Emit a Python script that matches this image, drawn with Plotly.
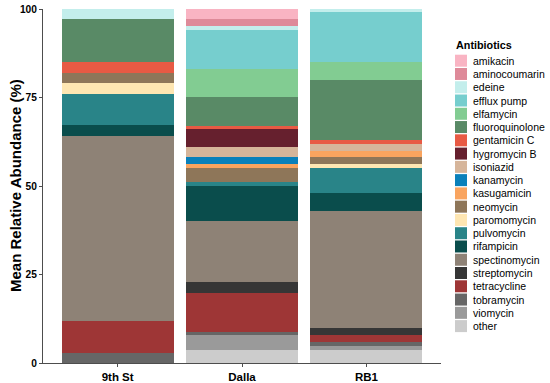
import plotly.graph_objects as go

sites = ["9th St", "Dalla", "RB1"]
antibiotics = ["amikacin", "aminocoumarin", "edeine", "efflux pump", "elfamycin",
               "fluoroquinolone", "gentamicin C", "hygromycin B", "isoniazid",
               "kanamycin", "kasugamicin", "neomycin", "paromomycin", "pulvomycin",
               "rifampicin", "spectinomycin", "streptomycin", "tetracycline",
               "tobramycin", "viomycin", "other"]
# values aligned with antibiotics
nine_st = [0, 0, 2.9, 0, 0, 12.0, 3.2, 0, 0, 0, 0, 2.8, 3.1, 8.9, 3.1, 52.1, 0, 9.1, 2.8, 0, 0]
dalla = [2.9, 2.0, 1.0, 11.1, 7.9, 8.1, 0.9, 5.0, 2.9, 2.1, 0.9, 4.2, 0, 1.0, 9.8, 17.4, 2.9, 11.1, 0.9, 4.1, 3.8]
rb1 = [0, 0, 0.9, 14.0, 5.2, 16.9, 1.0, 0, 2.0, 0, 1.9, 2.0, 1.0, 7.1, 5.1, 33.0, 2.1, 2.0, 1.0, 1.0, 3.8]
colors = ["#F9B4C3", "#DE8A99", "#C3EEEC", "#76CECE", "#82CC92", "#598A66", "#E85A44",
          "#66202E", "#D6B59A", "#0A80BA", "#F9A45F", "#8E7659", "#FEE6B2", "#298488",
          "#0A4D4C", "#8E8276", "#363636", "#9E3636", "#666666", "#9A9A9A", "#CCCCCC"]
yticks = [0, 25, 50, 75, 100]

FONT = "Liberation Sans"
fig = go.Figure()
for i in reversed(range(len(antibiotics))):
    fig.add_trace(go.Bar(
        x=sites, y=[nine_st[i], dalla[i], rb1[i]], name=antibiotics[i],
        marker=dict(color=colors[i], line=dict(width=0)), showlegend=False))

W, H = 550, 383
L, R, T, B = 43, 441, 9, 363
pw, ph = R - L, B - T

def px(x):
    return (x - L) / pw

def py(y):
    return (B - y) / ph

shapes = []
annotations = []
annotations.append(dict(text="<b>Antibiotics</b>", x=px(454), y=py(45), xref="paper", yref="paper",
                        xanchor="left", yanchor="middle", showarrow=False,
                        font=dict(family=FONT, size=10.8, color="black")))
for k, (name, col) in enumerate(zip(antibiotics, colors)):
    cy = 60.7 + 13.27 * k
    shapes.append(dict(type="rect", xref="paper", yref="paper",
                       x0=px(455), x1=px(467), y0=py(cy + 6), y1=py(cy - 6),
                       fillcolor=col, line=dict(width=0)))
    annotations.append(dict(text=name, x=px(471), y=py(cy), xref="paper", yref="paper",
                            xanchor="left", yanchor="middle", showarrow=False,
                            font=dict(family=FONT, size=10.5, color="black")))
annotations.append(dict(text="<b>Mean Relative Abundance (%)</b>", textangle=-90,
                        x=px(15), y=0.5, xref="paper", yref="paper",
                        xanchor="center", yanchor="middle", showarrow=False,
                        font=dict(family=FONT, size=15, color="black")))

fig.update_layout(
    width=W, height=H, barmode="stack", bargap=0.1,
    margin=dict(l=L, r=W - R, t=T, b=H - B, pad=0),
    paper_bgcolor="white", plot_bgcolor="white",
    showlegend=False, shapes=shapes, annotations=annotations,
    font=dict(family=FONT, color="black"),
    xaxis=dict(showgrid=False, showline=True, linecolor="#4d4d4d", linewidth=1,
               ticks="outside", ticklen=3, tickcolor="#4d4d4d",
               tickfont=dict(family=FONT, size=11.5, color="black", weight="bold"),
               automargin=False, range=[-0.6, 2.6]),
    yaxis=dict(showgrid=False, showline=True, linecolor="#4d4d4d", linewidth=1,
               ticks="outside", ticklen=3, tickcolor="#4d4d4d",
               tickvals=yticks, ticktext=[str(v) for v in yticks],
               tickfont=dict(family=FONT, size=10.2, color="black", weight="bold"),
               range=[0, 100], zeroline=False, automargin=False),
)
fig.write_html("out.html", config={"displayModeBar": False},
               post_script="document.body.style.margin='0px';")
